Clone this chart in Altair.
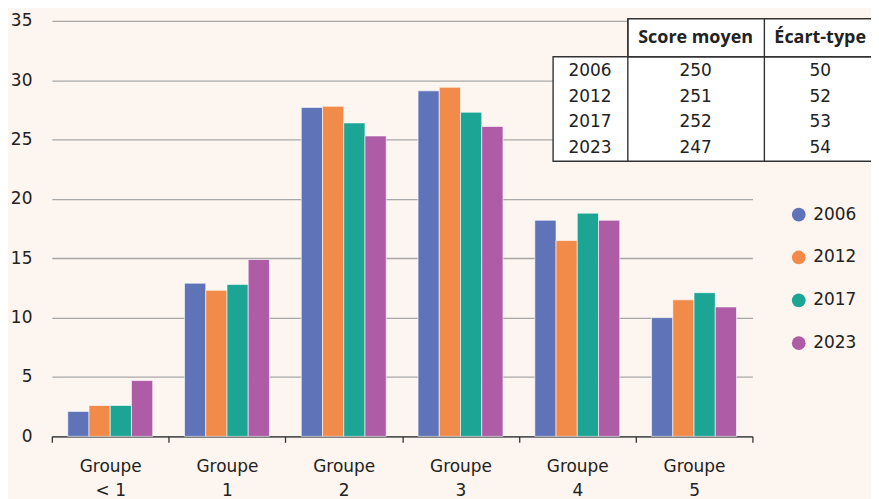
import altair as alt
import pandas as pd

groups = ["Groupe < 1", "Groupe 1", "Groupe 2", "Groupe 3", "Groupe 4", "Groupe 5"]
years = ["2006", "2012", "2017", "2023"]
colors = ["#5f73b8", "#f28a4a", "#1ca595", "#ae5ca6"]
values = {
    "2006": [2.1, 12.9, 27.7, 29.1, 18.2, 10.0],
    "2012": [2.6, 12.3, 27.8, 29.4, 16.5, 11.5],
    "2017": [2.6, 12.8, 26.4, 27.3, 18.8, 12.1],
    "2023": [4.7, 14.9, 25.3, 26.1, 18.2, 10.9],
}
table_years = ["2006", "2012", "2017", "2023"]
table_scores = ["250", "251", "252", "247"]
table_sd = ["50", "52", "53", "54"]
table_headers = ["Score moyen", "Écart-type"]

FONT = "DejaVu Sans"
BOLD_FONT = "Open Sans"
BG = "#fdf5ef"
TXT = "#222222"

rows = []
for y in years:
    for g, v in zip(groups, values[y]):
        rows.append({"group": g, "year": y, "value": v})
df = pd.DataFrame(rows)

W, H = 703, 417

bars = alt.Chart(df).mark_bar(stroke="white", strokeWidth=1, strokeOpacity=0.6).encode(
    x=alt.X("group:N", sort=groups, title=None,
            scale=alt.Scale(paddingInner=0, paddingOuter=0),
            axis=alt.Axis(labelAngle=0, tickBand="extent", ticks=True, tickSize=6,
                          tickColor="#333333", tickWidth=1.3, domainColor="#333333",
                          domainWidth=1.3, labelFont=FONT, labelFontSize=17,
                          labelColor=TXT, labelPadding=16, labelLineHeight=24,
                          labelBaseline="top", labelAlign="center", labelFlush=False,
                          labelBound=False, labelOverlap=False,
                          labelExpr="datum.label ? ['Groupe', substring(datum.label, 7)] : ''",
                          grid=False)),
    xOffset=alt.XOffset("year:N", sort=years,
                        scale=alt.Scale(paddingInner=0, paddingOuter=0.75)),
    y=alt.Y("value:Q", title=None,
            scale=alt.Scale(domain=[0, 35], nice=False),
            axis=alt.Axis(values=[0, 5, 10, 15, 20, 25, 30, 35], grid=True,
                          gridColor="#a8a8a8", gridWidth=1.3, domain=False, ticks=False,
                          labelFont=FONT, labelFontSize=17, labelColor=TXT,
                          labelPadding=20, labelAlign="right")),
    color=alt.Color("year:N", sort=years,
                    scale=alt.Scale(domain=years, range=colors),
                    legend=alt.Legend(title=None, orient="none", legendX=741, legendY=186,
                                      symbolType="circle", symbolSize=190,
                                      symbolStrokeWidth=0, labelFont=FONT,
                                      labelFontSize=17, labelColor=TXT,
                                      rowPadding=25, labelOffset=6)),
)

# table layers (layout positions relative to plot origin)
T_LEFT, C1, C2, T_RIGHT = 503, 578, 715, 845
T_TOP, H_BOT, T_BOT = -2, 36, 141

box_df = pd.DataFrame([
    {"x": T_LEFT, "x2": T_RIGHT, "y": H_BOT, "y2": T_BOT},
    {"x": C1, "x2": T_RIGHT, "y": T_TOP, "y2": H_BOT},
])
boxes = alt.Chart(box_df).mark_rect(fill="white", stroke="#333333", strokeWidth=1.4).encode(
    x=alt.X("x:Q", scale=None), x2="x2:Q", y=alt.Y("y:Q", scale=None), y2="y2:Q"
)
vlines = alt.Chart(pd.DataFrame({"x": [C1, C2]})).mark_rule(
    color="#333333", strokeWidth=1.4).encode(
    x=alt.X("x:Q", scale=None), y=alt.value(T_TOP), y2=alt.value(T_BOT)
)

cells = []
for hdr, cx in zip(table_headers, [646, 771]):
    cells.append({"t": hdr, "cx": cx, "cy": 17, "w": "bold"})
row_y = [50, 76, 102, 128]
for yr, sc, sd, cy in zip(table_years, table_scores, table_sd, row_y):
    cells.append({"t": yr, "cx": 540, "cy": cy, "w": "normal"})
    cells.append({"t": sc, "cx": 646, "cy": cy, "w": "normal"})
    cells.append({"t": sd, "cx": 771, "cy": cy, "w": "normal"})
cells_df = pd.DataFrame(cells)

txt_normal = alt.Chart(cells_df[cells_df.w == "normal"]).mark_text(
    font=FONT, fontSize=17, color=TXT, align="center", baseline="middle").encode(
    x=alt.X("cx:Q", scale=None), y=alt.Y("cy:Q", scale=None), text="t:N")
txt_bold = alt.Chart(cells_df[cells_df.w == "bold"]).mark_text(
    font=BOLD_FONT, fontSize=18, fontWeight="bold", color=TXT, align="center",
    baseline="middle").encode(
    x=alt.X("cx:Q", scale=None), y=alt.Y("cy:Q", scale=None), text="t:N")

chart = alt.layer(bars, boxes, vlines, txt_normal, txt_bold).properties(
    width=W, height=H, background=BG,
    autosize=alt.AutoSizeParams(type="none"),
    padding={"left": 44, "top": 12, "right": 119, "bottom": 62},
).configure_view(stroke=None)

chart.save("out.html", embed_options={"renderer": "svg", "actions": False})
